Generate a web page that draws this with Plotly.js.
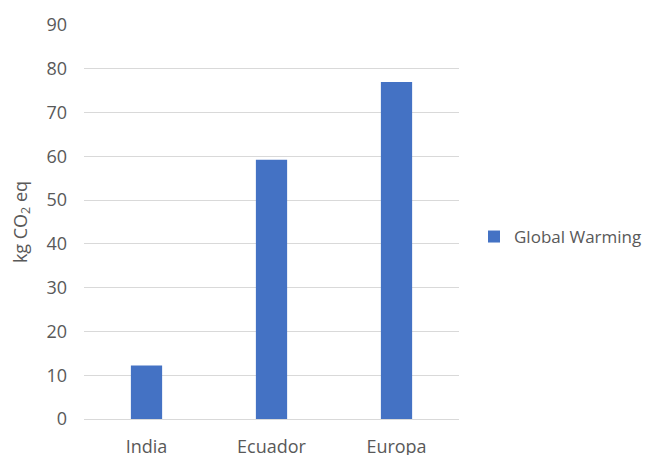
<!DOCTYPE html>
<html>
<head>
<meta charset="utf-8">
<script src="https://cdn.plot.ly/plotly-3.0.1.min.js"></script>
<style>html,body{margin:0;padding:0;background:#fff;}#chart{width:652px;height:455px;}</style>
</head>
<body>
<div id="chart"></div>
<script>
const categories = ["India", "Ecuador", "Europa"];
const globalWarming = [12.2, 59.2, 77.0];
const seriesName = "Global Warming";
const yTicks = [0, 10, 20, 30, 40, 50, 60, 70, 80, 90];

const font = {family: "Open Sans, Liberation Sans, sans-serif", size: 18, color: "#595959"};
const legendFont = {family: "Open Sans, Liberation Sans, sans-serif", size: 17, color: "#595959"};

Plotly.newPlot("chart", [{
  type: "bar",
  x: categories,
  y: globalWarming,
  name: seriesName,
  marker: {color: "#4472C4"},
  showlegend: true
}], {
  width: 652, height: 455,
  margin: {l: 84, r: 193, t: 25, b: 36, autoexpand: false},
  paper_bgcolor: "#fff", plot_bgcolor: "#fff",
  font: font,
  bargap: 0.75,
  showlegend: true,
  legend: {x: 1.04, xanchor: "left", y: 0.462, yanchor: "middle", font: legendFont, itemwidth: 30},
  xaxis: {
    showgrid: false, showline: true, linecolor: "#d9d9d9", linewidth: 1,
    ticks: "", tickfont: font, ticklabelstandoff: 11
  },
  yaxis: {
    range: [0, 90], tickvals: yTicks, showgrid: true, gridcolor: "#d9d9d9", gridwidth: 1,
    zeroline: false, showline: false, ticks: "", tickfont: font, ticklabelstandoff: 16,
    title: {text: "kg CO<sub>2</sub> eq", font: font, standoff: 14}
  }
}, {displayModeBar: false, staticPlot: true});
</script>
</body>
</html>
